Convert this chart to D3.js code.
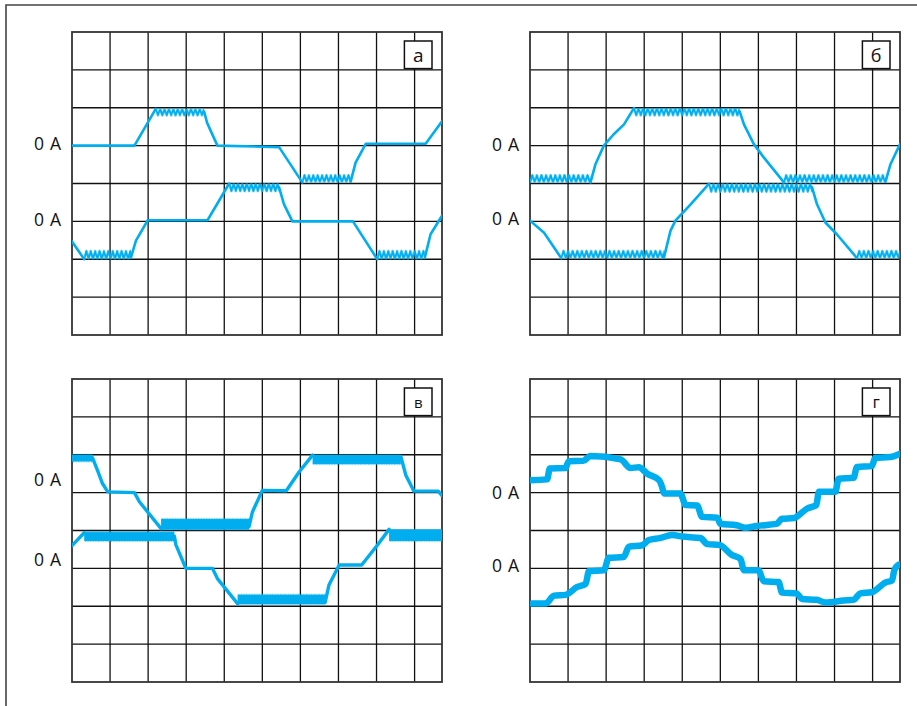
<!DOCTYPE html>
<html>
<head>
<meta charset="utf-8">
<script src="https://cdn.jsdelivr.net/npm/d3@7"></script>
<style>
  body { margin: 0; background: #fff; }
  svg { display: block; }
</style>
</head>
<body>
<svg id="chart" width="917" height="706"></svg>
<script>
// scope screen divisions
const xTicks = [1, 2, 3, 4, 5, 6, 7, 8, 9];
const yTicks = [-3, -2, -1, 0, 1, 2, 3];
const panelLetters = ['а', 'б', 'в', 'г'];
const zeroText = '0 A';

// traces: [time (div), level (div)], null = gap where a ripple plateau sits
const traceA1 = [[0, 1], [1.64, 1], [2.2, 1.97], null, [3.47, 1.9], [3.55, 1.6], [3.82, 1.0], [5.44, 0.96], [6.05, 0.03], null,
  [7.32, 0.05], [7.45, 0.55], [7.72, 1.05], [9.29, 1.05], [9.72, 1.64]];
const traceA2 = [[0, -1.53], [0.32, -2.0], null, [1.55, -1.95], [1.68, -1.51], [1.99, -0.97], [3.56, -0.97], [4.13, 0], null,
  [5.44, -0.1], [5.57, -0.55], [5.79, -1.0], [7.38, -1.0], [8.02, -2.0], null, [9.27, -1.95], [9.42, -1.34], [9.72, -0.85]];
const traceB1 = [[1.59, 0.03], [1.72, 0.51], [1.94, 1.0], [2.2, 1.3], [2.47, 1.56], [2.73, 1.99], null,
  [5.51, 1.9], [5.62, 1.56], [5.88, 1.04], [6.14, 0.69], [6.67, 0.03], null, [9.34, 0.05], [9.47, 0.51], [9.72, 1.04]];
const traceB2 = [[0, -0.98], [0.37, -1.3], [0.82, -1.97], null, [3.52, -1.95], [3.69, -1.25], [3.82, -0.98], [4.22, -0.55], [4.7, -0.01], null,
  [7.41, -0.1], [7.54, -0.55], [7.76, -1.03], [8.06, -1.34], [8.59, -1.97]];
const traceC1 = [[0.54, 1.92], [0.67, 1.59], [0.8, 1.24], [0.94, 1.02], [1.64, 1.0], [1.77, 0.76], [2.34, 0.05], null,
  [4.65, 0.1], [4.74, 0.49], [5.0, 1.06], [5.63, 1.05], [5.97, 1.55], [6.32, 1.99], null,
  [8.64, 1.95], [8.77, 1.46], [8.98, 1.04], [9.62, 1.04], [9.72, 0.92]];
const traceC2 = [[0, -0.4], [0.32, -0.06], null, [2.69, -0.15], [2.73, -0.38], [2.99, -1.0], [3.69, -1.0], [3.82, -1.27], [4.35, -1.93], null,
  [6.65, -1.9], [6.75, -1.44], [7.02, -0.91], [7.61, -0.91], [8.02, -0.39], [8.33, 0.03]];
const traceD1 = [[0, 1.33], [0.45, 1.35], [0.52, 1.64], [0.93, 1.65], [1.02, 1.83], [1.4, 1.84], [1.59, 1.97], [2.38, 1.88],
  [2.64, 1.65], [2.86, 1.67], [3.08, 1.5], [3.39, 1.33], [3.47, 1.15], [3.52, 0.98], [3.95, 0.98], [4.09, 0.67], [4.39, 0.66],
  [4.52, 0.36], [4.92, 0.34], [5.0, 0.18], [5.43, 0.14], [5.66, 0.07], [5.96, 0.12], [6.49, 0.18], [6.62, 0.31], [6.93, 0.33],
  [7.28, 0.58], [7.52, 0.67], [7.59, 1.02], [8.02, 1.02], [8.11, 1.37], [8.5, 1.39], [8.59, 1.68], [8.98, 1.7], [9.07, 1.92],
  [9.46, 1.94], [9.72, 2.03]];
const traceD2 = [[0.06, -1.93], [0.41, -1.93], [0.63, -1.72], [0.93, -1.7], [1.24, -1.49], [1.46, -1.41], [1.55, -1.07], [1.94, -1.05],
  [2.07, -0.72], [2.46, -0.7], [2.6, -0.43], [2.95, -0.39], [3.12, -0.25], [3.41, -0.2], [3.73, -0.12], [4.0, -0.16], [4.48, -0.2],
  [4.66, -0.36], [4.97, -0.38], [5.31, -0.65], [5.53, -0.75], [5.62, -1.05], [6.0, -1.05], [6.14, -1.34], [6.53, -1.36],
  [6.62, -1.64], [7.0, -1.66], [7.15, -1.81], [7.53, -1.83], [7.76, -1.9], [8.24, -1.85], [8.5, -1.83], [8.68, -1.66],
  [8.98, -1.63], [9.34, -1.37], [9.51, -1.32], [9.57, -1.05], [9.69, -0.9]];

// ripple plateaus: [t start, t end, tip level, base level]
const rippleA = [[2.2, 3.47, 1.97, 1.8], [6.05, 7.32, 0.03, 0.22], [0.32, 1.55, -2.0, -1.78], [4.13, 5.44, 0, -0.2], [8.02, 9.27, -2.0, -1.78]];
const rippleB = [[0, 1.59, 0.03, 0.22], [2.73, 5.51, 1.99, 1.8], [6.67, 9.34, 0.03, 0.22],
  [0.82, 3.52, -1.97, -1.78], [4.7, 7.41, 0, -0.22], [8.59, 9.72, -1.97, -1.78]];
const rippleC = [[0, 0.54, 2.0, 1.85], [2.34, 4.65, 0.02, 0.28], [6.32, 8.64, 2.0, 1.78],
  [0.32, 2.69, -0.03, -0.25], [4.35, 6.65, -1.95, -1.72], [8.33, 9.72, 0.03, -0.25]];
const rippleD = [];

// where the "0 A" labels sit (div)
const zeroLabelsA = [1.08, -0.95];
const zeroLabelsB = [1.04, -0.92];
const zeroLabelsC = [1.35, -0.74];
const zeroLabelsD = [1.02, -0.9];

const W = 370, H = 303;
const blue = '#00aeef';

const panels = [
  { left: 72, top: 32, traces: [traceA1, traceA2], ripples: rippleA, labels: zeroLabelsA, lw: 2.6, period: 4.4, rw: 2.1, fs: 19, curve: d3.curveLinear },
  { left: 530, top: 32, traces: [traceB1, traceB2], ripples: rippleB, labels: zeroLabelsB, lw: 2.6, period: 4.6, rw: 2.1, fs: 18, curve: d3.curveLinear },
  { left: 72, top: 379, traces: [traceC1, traceC2], ripples: rippleC, labels: zeroLabelsC, lw: 3.4, period: 2.6, rw: 3, fs: 15, curve: d3.curveLinear },
  { left: 530, top: 379, traces: [traceD1, traceD2], ripples: rippleD, labels: zeroLabelsD, lw: 6.5, period: 4, rw: 2, fs: 17, curve: d3.curveMonotoneX }
];

const svg = d3.select('#chart');
const defs = svg.append('defs');

// outer frame
svg.append('path')
  .attr('d', 'M6,706 V5 H917')
  .attr('fill', 'none')
  .attr('stroke', '#444')
  .attr('stroke-width', 1.6);

const x = d3.scaleLinear().domain([0, 9.72]).range([0, W]);
const y = d3.scaleLinear().domain([4, -4]).range([0, H]);

panels.forEach((p, i) => {
  const g = svg.append('g').attr('transform', `translate(${p.left},${p.top})`);
  const line = d3.line()
    .defined(d => d)
    .curve(p.curve)
    .x(d => x(d[0]))
    .y(d => y(d[1]));

  defs.append('clipPath').attr('id', 'clip' + i)
    .append('rect').attr('width', W).attr('height', H);

  // grid
  g.selectAll('.vl').data(xTicks).enter().append('line')
    .attr('x1', d => x(d)).attr('x2', d => x(d))
    .attr('y1', 0).attr('y2', H)
    .attr('stroke', '#111').attr('stroke-width', 1.3);
  g.selectAll('.hl').data(yTicks).enter().append('line')
    .attr('y1', d => y(d)).attr('y2', d => y(d))
    .attr('x1', 0).attr('x2', W)
    .attr('stroke', '#111').attr('stroke-width', 1.3);
  g.append('rect')
    .attr('width', W).attr('height', H)
    .attr('fill', 'none').attr('stroke', '#333').attr('stroke-width', 1.8);

  const plot = g.append('g').attr('clip-path', `url(#clip${i})`);

  // ripple plateaus drawn as zigzag-patterned bands
  p.ripples.forEach((r, j) => {
    const x0 = x(r[0]), x1 = x(r[1]);
    const yTip = y(r[2]), yBase = y(r[3]);
    const pad = p.rw;
    const top = Math.min(yTip, yBase) - pad;
    const h = Math.abs(yBase - yTip) + 2 * pad;
    const id = `rip${i}_${j}`;
    const pat = defs.append('pattern')
      .attr('id', id)
      .attr('patternUnits', 'userSpaceOnUse')
      .attr('x', x0).attr('y', top)
      .attr('width', p.period).attr('height', h);
    pat.append('path')
      .attr('d', `M0,${yTip - top} L${p.period / 2},${yBase - top} L${p.period},${yTip - top}`)
      .attr('fill', 'none')
      .attr('stroke', blue)
      .attr('stroke-width', p.rw)
      .attr('stroke-linejoin', 'round');
    plot.append('rect')
      .attr('x', x0).attr('y', top)
      .attr('width', x1 - x0).attr('height', h)
      .attr('fill', `url(#${id})`);
  });

  p.traces.forEach(t => {
    plot.append('path')
      .attr('d', line(t))
      .attr('fill', 'none')
      .attr('stroke', blue)
      .attr('stroke-width', p.lw)
      .attr('stroke-linejoin', 'round')
      .attr('stroke-linecap', 'round');
  });

  // zero labels
  g.selectAll('.zl').data(p.labels).enter().append('text')
    .attr('x', -11)
    .attr('y', d => y(d))
    .attr('text-anchor', 'end')
    .attr('dominant-baseline', 'central')
    .style('font-family', '"Open Sans", sans-serif')
    .style('font-size', '17.5px')
    .style('word-spacing', '1.5px')
    .attr('fill', '#111')
    .text(zeroText);

  // panel letter box
  const bx = W - 10 - 27.6;
  g.append('rect')
    .attr('x', bx).attr('y', 9)
    .attr('width', 27.6).attr('height', 27.6)
    .attr('fill', '#fff').attr('stroke', '#111').attr('stroke-width', 1.5);
  g.append('text')
    .attr('x', bx + 13.8).attr('y', 9 + 13.8)
    .attr('text-anchor', 'middle')
    .attr('dominant-baseline', 'central')
    .style('font-family', '"Open Sans", sans-serif')
    .style('font-size', p.fs + 'px')
    .attr('fill', '#111')
    .text(panelLetters[i]);
});
</script>
</body>
</html>
